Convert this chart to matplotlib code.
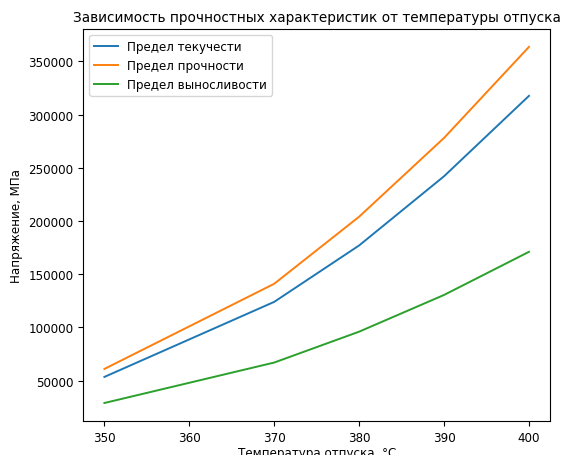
import matplotlib
matplotlib.use('Agg')
import matplotlib.pyplot as plt

temps = [350, 370, 380, 390, 400]
yield_strength = [53500, 124000, 177000, 242000, 317500]
tensile_strength = [61000, 141000, 204000, 278000, 363500]
endurance_limit = [29000, 67000, 96000, 130500, 171000]

plt.rcParams['font.size'] = 8.6
plt.rcParams['axes.titlesize'] = 9.8

fig, ax = plt.subplots(figsize=(5.62, 4.56), dpi=100)
ax.plot(temps, yield_strength, label='Предел текучести', lw=1.4)
ax.plot(temps, tensile_strength, label='Предел прочности', lw=1.4)
ax.plot(temps, endurance_limit, label='Предел выносливости', lw=1.4)
ax.legend(loc='upper left')
ax.set_title('Зависимость прочностных характеристик от температуры отпуска')
ax.set_xlabel('Температура отпуска, °C', labelpad=2)
ax.set_ylabel('Напряжение, МПа')
plt.subplots_adjust(left=0.148, right=0.979, top=0.934, bottom=0.075)
plt.savefig('out.png', dpi=100)
plt.close()
